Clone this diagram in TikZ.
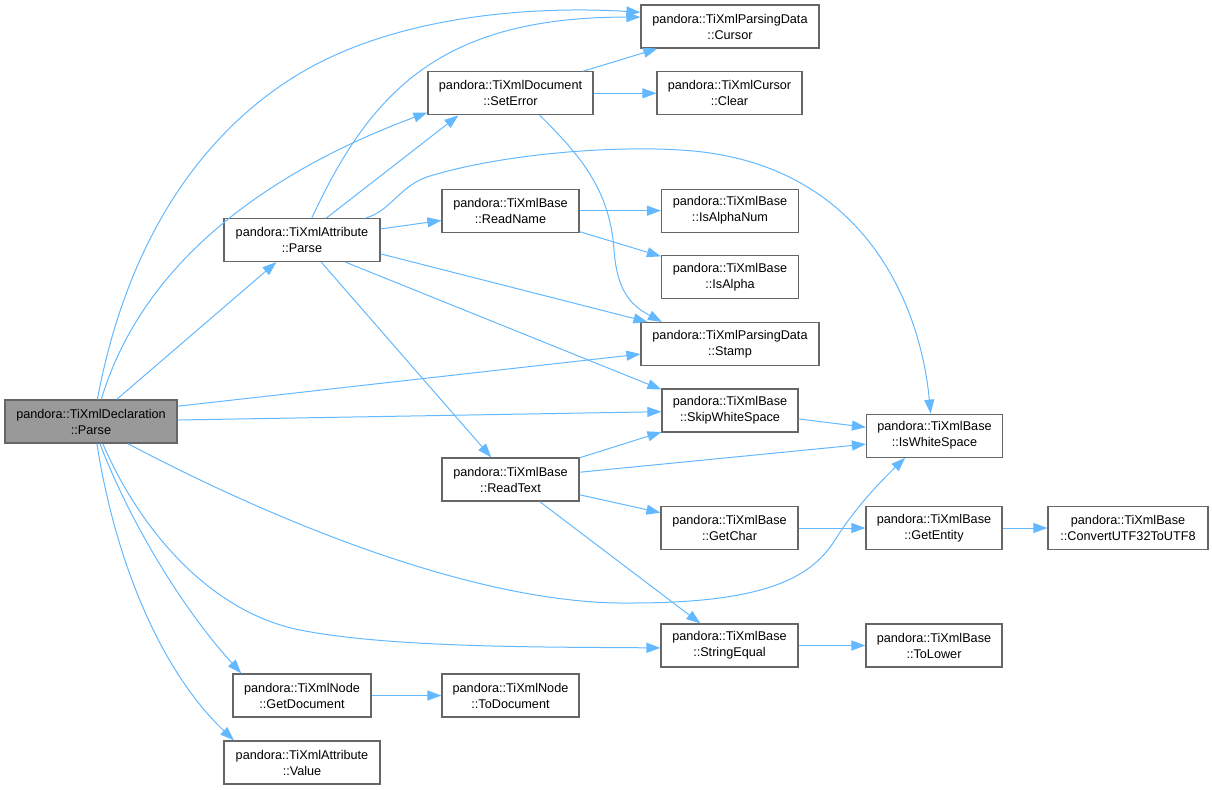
\documentclass[tikz,border=0pt]{standalone}
\usepackage{fontspec}
\setmainfont{Liberation Sans}
\usetikzlibrary{arrows.meta}

\definecolor{edgeblue}{RGB}{99,184,255}
\definecolor{boxgray}{RGB}{102,102,102}
\definecolor{declgray}{RGB}{153,153,153}

\tikzset{every picture/.style={line width=0.75pt}}
\tikzset{
  fn/.style={draw=boxgray, line width=0.9pt, fill=white, minimum height=32.25pt, inner sep=1pt, align=center, font=\fontsize{9.5}{12}\selectfont},
  call/.style={draw=edgeblue, line width=0.75pt, -{Triangle[length=10.5pt,width=7.5pt]}},
}

\begin{document}
\begin{tikzpicture}[x=0.75pt,y=0.75pt,yscale=-1,xscale=1]
\path[use as bounding box] (0,0) rectangle (1212,789);

%Shape: Rectangle [decl]
\node[fn, fill=declgray, minimum width=129pt] (decl) at (91,421.5) {pandora::TiXmlDeclaration\\::Parse};
%Shape: Rectangle [attrparse]
\node[fn, minimum width=117pt] (attrparse) at (302,240) {pandora::TiXmlAttribute\\::Parse};
%Shape: Rectangle [seterr]
\node[fn, minimum width=123.75pt] (seterr) at (510.5,93.3) {pandora::TiXmlDocument\\::SetError};
%Shape: Rectangle [cursor]
\node[fn, minimum width=133.5pt] (cursor) at (730,26.5) {pandora::TiXmlParsingData\\::Cursor};
%Shape: Rectangle [clear]
\node[fn, minimum width=108.75pt] (clear) at (729.5,93.3) {pandora::TiXmlCursor\\::Clear};
%Shape: Rectangle [readname]
\node[fn, minimum width=102.75pt] (readname) at (510.5,210.7) {pandora::TiXmlBase\\::ReadName};
%Shape: Rectangle [isalphanum]
\node[fn, minimum width=102.75pt] (isalphanum) at (730,210.7) {pandora::TiXmlBase\\::IsAlphaNum};
%Shape: Rectangle [isalpha]
\node[fn, minimum width=102.75pt] (isalpha) at (730,277.3) {pandora::TiXmlBase\\::IsAlpha};
%Shape: Rectangle [stamp]
\node[fn, minimum width=133.5pt] (stamp) at (730,344) {pandora::TiXmlParsingData\\::Stamp};
%Shape: Rectangle [skipws]
\node[fn, minimum width=102pt] (skipws) at (730,410.5) {pandora::TiXmlBase\\::SkipWhiteSpace};
%Shape: Rectangle [iswhitespace]
\node[fn, minimum width=102pt] (iswhitespace) at (934.5,435.7) {pandora::TiXmlBase\\::IsWhiteSpace};
%Shape: Rectangle [readtext]
\node[fn, minimum width=102.75pt] (readtext) at (510.5,479.5) {pandora::TiXmlBase\\::ReadText};
%Shape: Rectangle [getchar]
\node[fn, minimum width=102.75pt] (getchar) at (729.5,528) {pandora::TiXmlBase\\::GetChar};
%Shape: Rectangle [getentity]
\node[fn, minimum width=102pt] (getentity) at (934,528) {pandora::TiXmlBase\\::GetEntity};
%Shape: Rectangle [convert]
\node[fn, minimum width=120pt] (convert) at (1128,528) {pandora::TiXmlBase\\::ConvertUTF32ToUTF8};
%Shape: Rectangle [strequal]
\node[fn, minimum width=102.75pt] (strequal) at (729.5,645.5) {pandora::TiXmlBase\\::StringEqual};
%Shape: Rectangle [tolower]
\node[fn, minimum width=102pt] (tolower) at (934,645.5) {pandora::TiXmlBase\\::ToLower};
%Shape: Rectangle [getdoc]
\node[fn, minimum width=103.5pt] (getdoc) at (302,695.5) {pandora::TiXmlNode\\::GetDocument};
%Shape: Rectangle [todoc]
\node[fn, minimum width=102.75pt] (todoc) at (510.5,695.5) {pandora::TiXmlNode\\::ToDocument};
%Shape: Rectangle [value]
\node[fn, minimum width=117pt] (value) at (302,762.5) {pandora::TiXmlAttribute\\::Value};

%Curve Lines [decl -> cursor]
\draw[call] (decl.74) .. controls (131,220) and (217,125) .. (294,77) .. controls (396,13) and (541,6) .. (cursor.171);
%Curve Lines [decl -> seterr]
\draw[call] (decl.65) .. controls (146,250) and (288,164) .. (seterr.193);
%Straight Lines [decl -> attrparse]
\draw[call] (decl) -- (attrparse);
%Straight Lines [decl -> stamp]
\draw[call] (decl.10) -- (stamp);
%Straight Lines [decl -> skipws]
\draw[call] (decl) -- (skipws);
%Curve Lines [decl -> iswhitespace]
\draw[call] (decl.-31) .. controls (278,523) and (480,605) .. (630,603) .. controls (760,603) and (810,580) .. (835,540) .. controls (855,508) and (880,482) .. (iswhitespace.217);
%Curve Lines [decl -> strequal]
\draw[call] (decl.-62) .. controls (140,530) and (210,612) .. (300,630) .. controls (390,648) and (550,647) .. (strequal.182);
%Curve Lines [decl -> getdoc]
\draw[call] (decl.-68) .. controls (125,510) and (175,600) .. (getdoc.160);
%Curve Lines [decl -> value]
\draw[call] (decl.-75) .. controls (115,560) and (160,670) .. (value.162);

%Curve Lines [attrparse -> cursor]
\draw[call] (attrparse.66) .. controls (371,91) and (441,17) .. (cursor.174);
%Straight Lines [attrparse -> seterr]
\draw[call] (attrparse.42) -- (seterr.203);
%Curve Lines [attrparse -> iswhitespace]
\draw[call] (attrparse.19) .. controls (392,210) and (400,185) .. (430,176) .. controls (510,152) and (620,146) .. (680,150) .. controls (860,160) and (920,300) .. (iswhitespace.100);
%Straight Lines [attrparse -> readname]
\draw[call] (attrparse) -- (readname);
%Straight Lines [attrparse -> stamp]
\draw[call] (attrparse.-10) -- (stamp.165);
%Straight Lines [attrparse -> skipws]
\draw[call] (attrparse.-27) -- (skipws.163);
%Straight Lines [attrparse -> readtext]
\draw[call] (attrparse) -- (readtext);

%Straight Lines [seterr -> cursor]
\draw[call] (seterr) -- (cursor);
%Straight Lines [seterr -> clear]
\draw[call] (seterr) -- (clear);
%Curve Lines [seterr -> stamp]
\draw[call] (seterr.-37) .. controls (580,155) and (610,190) .. (614,250) .. controls (617,290) and (630,305) .. (stamp.162);

%Straight Lines [readname -> isalphanum, isalpha]
\draw[call] (readname) -- (isalphanum);
\draw[call] (readname) -- (isalpha);

%Straight Lines [readtext -> ...]
\draw[call] (readtext) -- (skipws);
\draw[call] (readtext.6) -- (iswhitespace.187);
\draw[call] (readtext) -- (getchar);
\draw[call] (readtext) -- (strequal);

%Straight Lines [leaves]
\draw[call] (skipws) -- (iswhitespace);
\draw[call] (getchar) -- (getentity);
\draw[call] (getentity) -- (convert);
\draw[call] (strequal) -- (tolower);
\draw[call] (getdoc) -- (todoc);

\end{tikzpicture}
\end{document}
